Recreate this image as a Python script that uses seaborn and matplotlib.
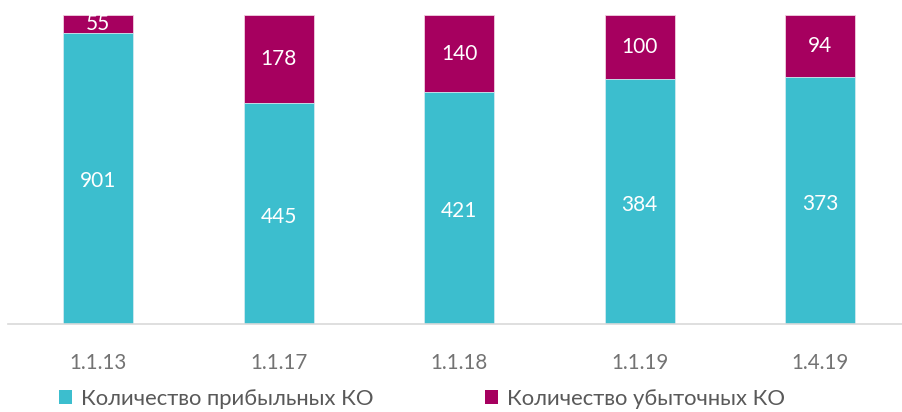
import matplotlib
matplotlib.use("Agg")
import matplotlib.pyplot as plt
from matplotlib.patches import Patch
import seaborn as sns
import pandas as pd

dates = ["1.1.13", "1.1.17", "1.1.18", "1.1.19", "1.4.19"]
profitable = [901, 445, 421, 384, 373]
unprofitable = [55, 178, 140, 100, 94]

series_names = ["Количество прибыльных КО", "Количество убыточных КО"]
teal = "#3CBECE"
plum = "#A6005F"

sns.set_theme(style="white")
plt.rcParams["font.family"] = ["Lato", "DejaVu Sans"]

df = pd.DataFrame({"date": dates, "profit": profitable, "loss": unprofitable})
df["total"] = df["profit"] + df["loss"]
df["profit_share"] = df["profit"] / df["total"] * 100
df["full"] = 100.0

fig = plt.figure(figsize=(9.02, 4.12), dpi=100)
ax = fig.add_axes([8 / 902, 88 / 412, 902.5 / 902, 309 / 412])

# Full-height bar in plum, profitable share on top of it in teal (100% stacked)
sns.barplot(data=df, x="date", y="full", color=plum, width=0.39,
            saturation=1, ax=ax, edgecolor="#f0d0e0", linewidth=0.6)
sns.barplot(data=df, x="date", y="profit_share", color=teal, width=0.39,
            saturation=1, ax=ax, edgecolor="#d0f0f4", linewidth=0.6)

profit_bars = ax.containers[1]

# Label each segment with its count, centred in the segment
for rect, n_profit, n_loss in zip(profit_bars, profitable, unprofitable):
    x = rect.get_x() + rect.get_width() / 2
    h = rect.get_height()
    ax.text(x, h / 2 - 1, str(n_profit), ha="center", va="center",
            color="white", fontsize=15)
    ax.text(x, h + (100 - h) / 2, str(n_loss), ha="center", va="center",
            color="white", fontsize=15)

ax.set_ylim(0, 100)
ax.set_xlim(-0.5, 4.5)
ax.set_xlabel("")
ax.set_ylabel("")
ax.set_yticks([])
ax.tick_params(axis="x", length=0, pad=21, labelsize=14.8, labelcolor="#737373")
for side in ["top", "left", "right"]:
    ax.spines[side].set_visible(False)
ax.spines["bottom"].set_color("#d9d9d9")
ax.spines["bottom"].set_linewidth(1.2)

handles = [Patch(facecolor=teal, edgecolor="none"),
           Patch(facecolor=plum, edgecolor="none")]
fig.legend(handles, series_names, loc="lower left",
           bbox_to_anchor=(39 / 902, -0.04), ncol=2, frameon=False,
           fontsize=15.8, labelcolor="#595959", handlelength=0.6,
           handleheight=0.6, handletextpad=0.4, columnspacing=5.1)

fig.savefig("out.png", dpi=100)
